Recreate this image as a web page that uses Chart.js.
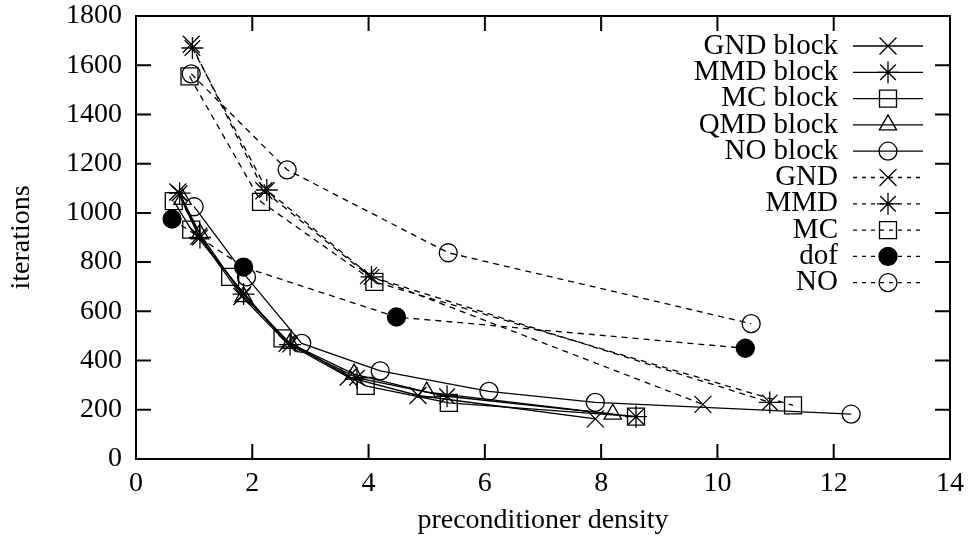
<!DOCTYPE html>
<html>
<head>
<meta charset="utf-8">
<script src="https://cdn.jsdelivr.net/npm/chart.js@4.4.1/dist/chart.umd.min.js"></script>
<style>
  html, body { margin: 0; padding: 0; background: #fff; }
  #wrap { width: 969px; height: 543px; }
</style>
</head>
<body>
<div id="wrap"><canvas id="chart"></canvas></div>
<script>
// values
const xTicks = [0, 2, 4, 6, 8, 10, 12, 14];
const yTicks = [0, 200, 400, 600, 800, 1000, 1200, 1400, 1600, 1800];

const gndBlockX = [0.72, 1.08, 1.82, 2.60, 3.65, 4.85, 7.90];
const gndBlockY = [1085, 905, 660, 470, 333, 258, 163];
const mmdBlockX = [0.75, 1.10, 1.85, 2.65, 3.80, 5.35, 8.60];
const mmdBlockY = [1080, 900, 670, 465, 330, 255, 172];
const mcBlockX = [0.65, 0.95, 1.62, 2.52, 3.95, 5.38, 8.60];
const mcBlockY = [1048, 932, 740, 490, 297, 228, 172];
const qmdBlockX = [0.80, 1.10, 1.85, 2.65, 3.75, 5.00, 8.20];
const qmdBlockY = [1055, 915, 660, 470, 345, 272, 182];
const noBlockX = [1.00, 1.90, 2.85, 4.20, 6.07, 7.90, 12.30];
const noBlockY = [1025, 740, 470, 358, 275, 230, 182];

const gndX = [0.95, 2.20, 4.00, 9.75];
const gndY = [1685, 1090, 745, 222];
const mmdX = [0.97, 2.25, 4.05, 10.90];
const mmdY = [1670, 1093, 740, 230];
const mcX = [0.92, 2.15, 4.10, 11.30];
const mcY = [1555, 1045, 720, 218];
const dofX = [0.62, 1.85, 4.48, 10.48];
const dofY = [975, 780, 577, 450];
const noX = [0.95, 2.60, 5.37, 10.58];
const noY = [1565, 1175, 838, 550];

const FONT = '"Liberation Serif", "DejaVu Serif", serif';
const FONT_SIZE = 28;
const KEY_FONT_SIZE = 29;
const DASH = [6, 5];

const clear = 'rgba(0,0,0,0)';
const markers = {
    cross:  { pointStyle: 'crossRot', radius: 12, fill: clear },
    star:   { pointStyle: 'star', radius: 11, fill: clear },
    square: { pointStyle: 'rect', radius: 12, fill: clear },
    tri:    { pointStyle: 'triangle', radius: 10, fill: clear },
    circle: { pointStyle: 'circle', radius: 9, fill: clear },
    disc:   { pointStyle: 'circle', radius: 9, fill: '#000' }
};

function zip(xs, ys) {
    return xs.map((x, i) => ({ x: x, y: ys[i] }));
}

function makeSet(label, xs, ys, marker, dashed) {
    const m = markers[marker];
    return {
        label: label,
        data: zip(xs, ys),
        borderColor: '#000',
        borderWidth: 1.3,
        borderDash: dashed ? DASH : [],
        pointStyle: m.pointStyle,
        pointRadius: m.radius,
        pointHoverRadius: m.radius,
        pointBorderColor: '#000',
        pointBackgroundColor: m.fill,
        pointBorderWidth: 1.3,
        tension: 0,
        fill: false,
        marker: marker,
        dashed: dashed
    };
}

const datasets = [
    makeSet('GND block', gndBlockX, gndBlockY, 'cross', false),
    makeSet('MMD block', mmdBlockX, mmdBlockY, 'star', false),
    makeSet('MC block', mcBlockX, mcBlockY, 'square', false),
    makeSet('QMD block', qmdBlockX, qmdBlockY, 'tri', false),
    makeSet('NO block', noBlockX, noBlockY, 'circle', false),
    makeSet('GND', gndX, gndY, 'cross', true),
    makeSet('MMD', mmdX, mmdY, 'star', true),
    makeSet('MC', mcX, mcY, 'square', true),
    makeSet('dof', dofX, dofY, 'disc', true),
    makeSet('NO', noX, noY, 'circle', true)
];

// frame, inward ticks on all sides, axis titles and the gnuplot style key
const framePlugin = {
    id: 'frame',
    afterDraw(chart) {
        const ctx = chart.ctx;
        const a = chart.chartArea;
        const xs = chart.scales.x;
        const ys = chart.scales.y;
        const tick = 15;
        ctx.save();
        ctx.strokeStyle = '#000';
        ctx.lineWidth = 2;
        ctx.setLineDash([]);
        ctx.strokeRect(a.left, a.top, a.right - a.left, a.bottom - a.top);
        ctx.beginPath();
        xTicks.forEach(v => {
            const px = xs.getPixelForValue(v);
            ctx.moveTo(px, a.bottom); ctx.lineTo(px, a.bottom - tick);
            ctx.moveTo(px, a.top); ctx.lineTo(px, a.top + tick);
        });
        yTicks.forEach(v => {
            const py = ys.getPixelForValue(v);
            ctx.moveTo(a.left, py); ctx.lineTo(a.left + tick, py);
            ctx.moveTo(a.right, py); ctx.lineTo(a.right - tick, py);
        });
        ctx.stroke();

        ctx.fillStyle = '#000';
        ctx.font = FONT_SIZE + 'px ' + FONT;
        ctx.textAlign = 'center';
        ctx.textBaseline = 'middle';
        ctx.fillText('preconditioner density', (a.left + a.right) / 2, 521);
        ctx.save();
        ctx.translate(22, (a.top + a.bottom) / 2);
        ctx.rotate(-Math.PI / 2);
        ctx.fillText('iterations', 0, 0);
        ctx.restore();

        // key
        ctx.font = KEY_FONT_SIZE + 'px ' + FONT;
        const textRight = 838, lineL = 853, lineR = 923, markX = 888;
        let rowY = 46;
        const step = 26.3;
        chart.data.datasets.forEach(ds => {
            ctx.textAlign = 'right';
            ctx.fillStyle = '#000';
            ctx.fillText(ds.label, textRight, rowY);
            ctx.lineWidth = 1.3;
            ctx.setLineDash(ds.dashed ? [4, 5] : []);
            ctx.beginPath();
            ctx.moveTo(lineL, rowY);
            ctx.lineTo(lineR, rowY);
            ctx.stroke();
            ctx.setLineDash([]);
            const m = markers[ds.marker];
            ctx.fillStyle = m.fill;
            ctx.strokeStyle = '#000';
            Chart.helpers.drawPoint(ctx, {
                pointStyle: m.pointStyle,
                radius: m.radius,
                rotation: 0,
                borderWidth: 1.3
            }, markX, rowY);
            rowY += step;
        });
        ctx.restore();
    }
};

new Chart(document.getElementById('chart'), {
    type: 'line',
    data: { datasets: datasets },
    options: {
        responsive: true,
        maintainAspectRatio: false,
        animation: false,
        layout: { padding: { left: 0, right: 19, top: 16, bottom: 0 } },
        plugins: {
            legend: { display: false },
            tooltip: { enabled: false }
        },
        scales: {
            x: {
                type: 'linear',
                min: 0,
                max: 14,
                afterFit(scale) {
                    scale.height = 84;
                    scale.paddingLeft = 0;
                    scale.paddingRight = 0;
                },
                afterBuildTicks(scale) { scale.ticks = xTicks.map(v => ({ value: v })); },
                grid: { display: false, drawTicks: false },
                border: { display: false },
                ticks: {
                    color: '#000',
                    padding: 8,
                    maxRotation: 0,
                    callback: v => String(v),
                    font: { family: FONT, size: FONT_SIZE }
                }
            },
            y: {
                type: 'linear',
                min: 0,
                max: 1800,
                afterFit(scale) {
                    scale.width = 136;
                    scale.paddingTop = 0;
                    scale.paddingBottom = 0;
                },
                afterBuildTicks(scale) { scale.ticks = yTicks.map(v => ({ value: v })); },
                grid: { display: false, drawTicks: false },
                border: { display: false },
                ticks: {
                    color: '#000',
                    padding: 14,
                    callback: v => String(v),
                    font: { family: FONT, size: FONT_SIZE }
                }
            }
        }
    },
    plugins: [framePlugin]
});
</script>
</body>
</html>
